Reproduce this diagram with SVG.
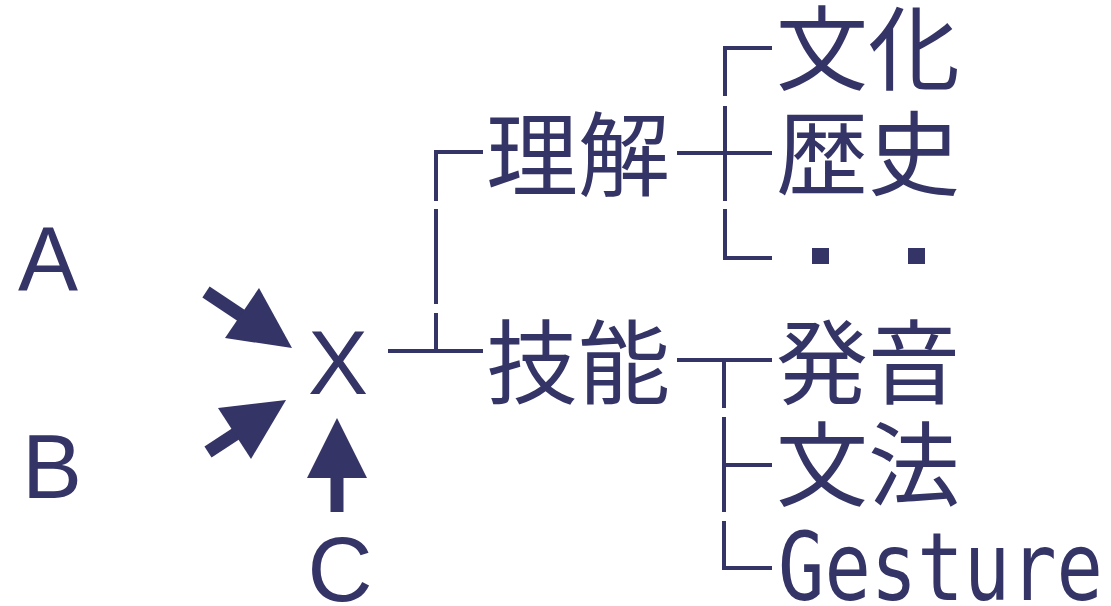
<svg xmlns="http://www.w3.org/2000/svg" width="1111" height="606" viewBox="0 0 1111 606">
<style>
.lbl{font-family:"Liberation Sans",Arial,sans-serif;font-size:90px;fill:#343466}
.jp{font-family:"Noto Sans CJK JP",sans-serif;font-size:92px;fill:#343466}
.mono{font-family:"DejaVu Sans Mono",monospace;font-size:95px;fill:#343466}
.ln{stroke:#343466;stroke-width:4;fill:none}
.arr{fill:#343466}
.shaft{stroke:#343466;stroke-width:13;fill:none}
</style>
<rect width="1111" height="606" fill="#ffffff"/>
<g id="nodeA"><text class="lbl" x="18" y="290">A</text></g>
<g id="nodeB"><text class="lbl" x="22" y="498">B</text></g>
<g id="nodeX"><text class="lbl" x="338" y="394" text-anchor="middle">X</text></g>
<g id="nodeC"><text class="lbl" x="340" y="601" text-anchor="middle">C</text></g>
<g id="node-rikai"><text class="jp" x="486" y="189">理解</text></g>
<g id="node-gino"><text class="jp" x="486" y="397">技能</text></g>
<g id="node-bunka"><text class="jp" x="776" y="83">文化</text></g>
<g id="node-rekishi"><text class="jp" x="776" y="188">歴史</text></g>
<g id="node-dots"><rect class="arr" x="812" y="248" width="17" height="16"/><rect class="arr" x="908" y="248" width="17" height="16"/></g>
<g id="node-hatsuon"><text class="jp" x="776" y="397">発音</text></g>
<g id="node-bunpo"><text class="jp" x="776" y="499">文法</text></g>
<g id="node-gesture"><text class="mono" x="778" y="600" textLength="325" lengthAdjust="spacingAndGlyphs">Gesture</text></g>
<g id="connectors">
<line class="shaft" x1="206" y1="292" x2="245" y2="318"/>
<polygon class="arr" points="292,348 259,288 225,338"/>
<line class="shaft" x1="208" y1="452" x2="237" y2="433"/>
<polygon class="arr" points="286,400 218,408 251,459"/>
<line class="shaft" x1="337" y1="476" x2="337" y2="512"/>
<polygon class="arr" points="337,418 307,478 367,478"/>
<path class="ln" d="M436,201 V152 H483 M436,209 V304 M436,313 V351 M388,351 H483"/>
<path class="ln" d="M725,96 V48 H772 M725,106 V201 M725,209 V258 H772 M677,153 H772"/>
<path class="ln" d="M677,360 H772 M724,360 V408 M724,417 V512 M724,521 V568 H772 M724,465 H772"/>
</g>
</svg>
